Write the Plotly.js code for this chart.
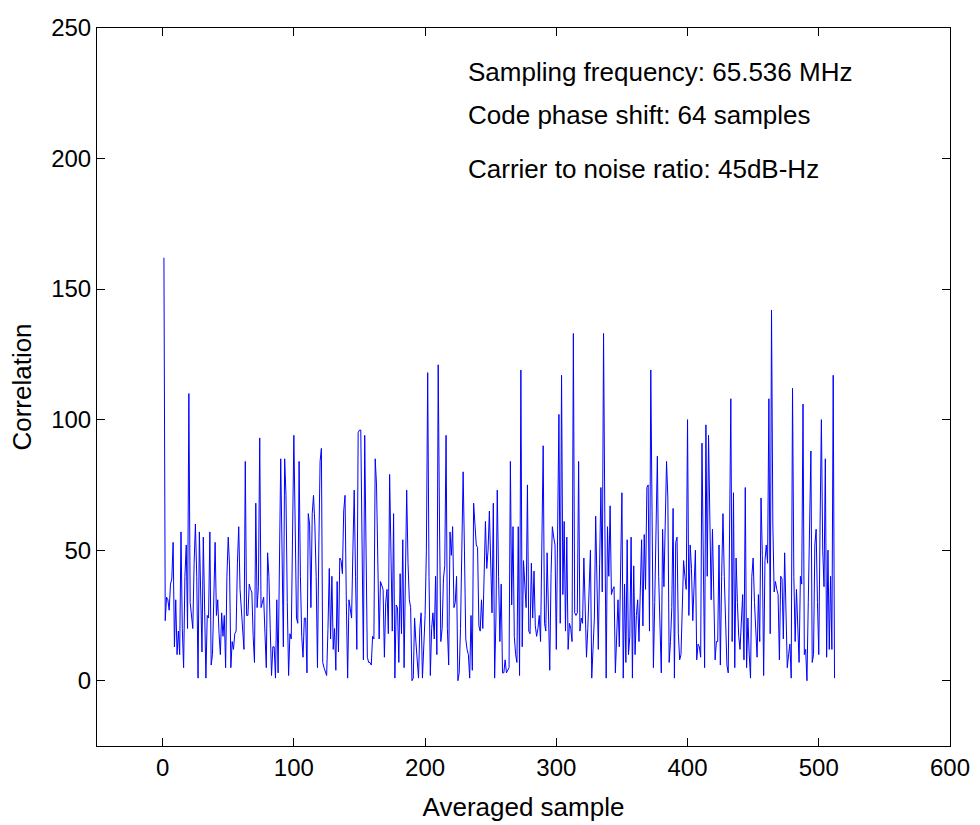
<!DOCTYPE html>
<html>
<head>
<meta charset="utf-8">
<script src="https://cdn.plot.ly/plotly-3.0.1.min.js"></script>
<style>html,body{margin:0;padding:0;background:#fff;}#chart{width:980px;height:825px;}</style>
</head>
<body>
<div id="chart"></div>
<script>
// Correlation values for averaged samples 1..512
const correlation = [
162,23,32,31,27,37,39,53,13,31,10,19,10,57,20,5,40,52,20,110,30,25,20,45,60,40,1,57,30,11,55,25,1,25,24,57,6,10,30,53,25,31,18,10,26,17,25,5,40,55,44,5,15,12,18,19,45,59,35,26,19,12,84,25,
25,37,35,34,17,7,68,28,36,93,28,30,32,18,5,49,40,20,2,13,13,1,31,3,50,85,50,13,85,71,30,2,18,16,55,94,60,24,22,84,40,17,9,24,24,3,64,60,28,64,71,60,40,5,50,84,89,7,5,3,2,20,43,16,
40,12,20,4,38,11,47,46,41,65,71,30,1,31,28,24,50,73,40,12,95,96,96,40,8,94,40,9,7,7,6,17,16,85,75,45,16,38,36,35,9,30,35,18,79,40,19,64,1,29,28,7,41,18,54,5,40,73,45,31,28,0,1,24,
15,7,1,20,26,1,12,25,50,118,40,2,20,26,16,40,10,121,60,15,20,39,44,94,20,6,57,48,59,28,30,40,0,3,20,44,80,50,16,12,10,1,25,4,68,60,52,51,21,19,31,20,40,61,43,50,65,40,26,68,1,24,73,40,
15,37,3,3,8,3,4,5,84,29,59,17,10,7,59,2,119,13,46,35,28,75,19,18,45,24,42,21,17,20,25,15,60,90,22,19,49,20,4,41,59,55,52,12,60,102,22,117,33,61,19,55,12,22,20,15,133,26,25,26,84,19,24,22,
47,30,9,20,40,50,1,12,24,63,35,12,45,74,34,133,60,1,59,40,67,33,35,36,3,22,31,13,40,72,1,37,7,54,10,17,55,1,44,10,25,31,15,40,54,21,56,35,74,75,19,119,40,5,30,60,86,40,20,3,58,36,60,84,
70,7,15,28,66,1,53,55,18,8,10,30,46,40,35,100,25,52,43,23,35,50,8,14,13,9,91,40,5,98,40,94,60,31,58,25,8,15,15,52,6,40,64,40,20,6,3,60,108,15,72,5,47,30,17,12,25,33,8,74,5,24,10,1,
40,47,30,20,9,33,15,70,48,2,46,52,45,108,18,142,60,34,38,35,33,8,40,39,16,49,30,5,10,14,1,112,40,15,35,20,7,40,37,106,10,12,0,30,60,88,7,10,52,58,30,10,60,100,50,36,85,9,50,12,40,12,117,1
];
const xTickVals = [0,100,200,300,400,500,600];
const yTickVals = [0,50,100,150,200,250];
const notes = ["Sampling frequency: 65.536 MHz","Code phase shift: 64 samples","Carrier to noise ratio: 45dB-Hz"];
const noteY = [233,216.5,196];

const fam = "Liberation Sans, Arial, sans-serif";
const tickFont = {family:fam, size:24, color:"#000"};
const textFont = {family:fam, size:26, color:"#000"};
const trace = {
  type:"scatter", mode:"lines", y:correlation, x0:1, dx:1,
  line:{color:"#0000ff", width:1}, hoverinfo:"skip"
};
const layout = {
  width:980, height:825,
  margin:{l:97, r:30, t:28, b:79, pad:0},
  paper_bgcolor:"#fff", plot_bgcolor:"#fff",
  showlegend:false,
  font:tickFont,
  xaxis:{range:[-50,600], tickvals:xTickVals, ticks:"inside", ticklen:8, tickcolor:"#000",
    showline:true, linecolor:"#000", linewidth:1, mirror:"ticks", showgrid:false, zeroline:false,
    tickfont:tickFont, title:{text:"Averaged sample", font:textFont, standoff:18}, automargin:false},
  yaxis:{range:[-25,250], tickvals:yTickVals, ticks:"inside", ticklen:8, tickcolor:"#000",
    showline:true, linecolor:"#000", linewidth:1, mirror:"ticks", showgrid:false, zeroline:false,
    tickfont:tickFont, title:{text:"Correlation", font:textFont, standoff:12}, automargin:false},
  annotations: notes.map((t,i)=>({text:t, x:231.5, y:noteY[i], xref:"x", yref:"y",
    xanchor:"left", yanchor:"middle", showarrow:false, font:textFont}))
};
Plotly.newPlot("chart",[trace],layout,{displayModeBar:false, staticPlot:true});
</script>
</body>
</html>
